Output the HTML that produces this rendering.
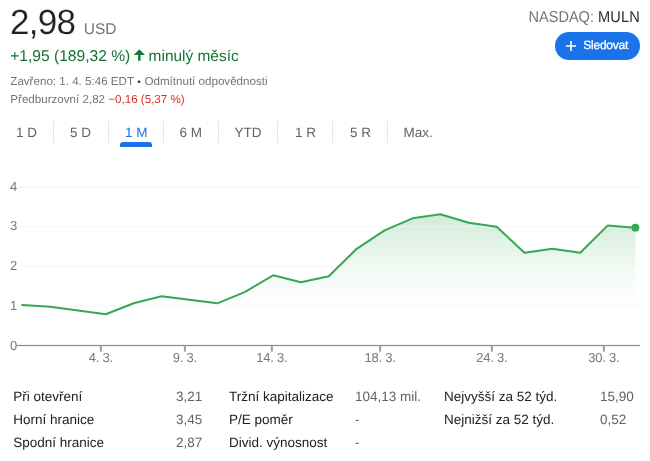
<!DOCTYPE html>
<html lang="cs">
<head>
<meta charset="utf-8">
<title>MULN</title>
<style>
html,body{margin:0;padding:0;background:#fff;}
body{width:650px;height:461px;position:relative;overflow:hidden;font-family:"Liberation Sans",sans-serif;color:#202124;text-rendering:geometricPrecision;}
.abs{position:absolute;white-space:nowrap;}
#price{left:10px;top:1px;font-size:35px;line-height:44px;color:#202124;letter-spacing:-0.7px;-webkit-text-stroke:0.15px #fff;}
#cur{left:83.7px;top:19.2px;font-size:15.5px;line-height:22px;color:#70757a;letter-spacing:0;}
#chg{left:10.2px;top:46px;font-size:15.6px;line-height:22px;color:#137333;}
#chg2{left:148.6px;top:46px;font-size:15.45px;line-height:22px;color:#137333;}
#meta1{left:10.3px;top:73px;font-size:11.6px;line-height:18px;color:#70757a;}
#meta2{left:10.3px;top:91px;font-size:11.6px;line-height:18px;color:#70757a;}
#meta2 .neg{color:#d93025;}
.dot{font-size:10px;color:#3c4043;position:relative;top:0.3px;margin:0 0.5px 0 0.15px;}
#exch{right:10.5px;top:8px;font-size:15.8px;line-height:20px;color:#70757a;transform:scaleX(0.922);transform-origin:100% 50%;}
#exch b{font-weight:normal;color:#2a2b2e;letter-spacing:0.15px;}
#follow{left:554.8px;top:32.3px;width:85.2px;height:27.3px;border-radius:14px;background:#1a73e8;color:#fff;font-size:12px;line-height:27.4px;}
#follow span{position:absolute;left:28.5px;top:0;letter-spacing:-0.25px;-webkit-text-stroke:0.3px #fff;}
.tab{top:122px;font-size:13.5px;line-height:22px;color:#5f6368;}
.sep{position:absolute;top:121px;width:1px;height:22px;background:#e4e7ee;}
#ul{position:absolute;left:119.8px;top:142px;width:32px;height:4.5px;background:#1a73e8;border-radius:3px 3px 0 0;}
.yl{font-size:13px;line-height:14px;color:#757a7f;left:10.1px;}
.xl{font-size:13px;line-height:14px;color:#757a7f;top:351px;transform:translateX(-50%);letter-spacing:-0.2px;}
.st{font-size:13.5px;line-height:16px;}
.k{color:#202124;}
.v{color:#5f6368;}
</style>
</head>
<body>
<div class="abs" id="price">2,98</div>
<div class="abs" id="cur">USD</div>
<div class="abs" id="chg">+1,95 (189,32 %)</div>
<svg class="abs" style="left:132px;top:47px" width="16" height="16" viewBox="132 47 16 16"><path d="M139.35 49.3 L145 54.9 L140.55 54.9 L140.55 60.7 L138.1 60.7 L138.1 54.9 L133.7 54.9 Z" fill="#15793a"/></svg>
<div class="abs" id="chg2">minulý měsíc</div>
<div class="abs" id="meta1">Zavřeno: 1. 4. 5:46 EDT <span class="dot">•</span> Odmítnutí odpovědnosti</div>
<div class="abs" id="meta2">Předburzovní 2,82 <span class="neg">−0,16 (5,37 %)</span></div>
<div class="abs" id="exch">NASDAQ: <b>MULN</b></div>
<div class="abs" id="follow"><svg width="12" height="12" viewBox="0 0 12 12" style="position:absolute;left:10.2px;top:8.2px"><path d="M5.2 1h1.6v4.2h4.2v1.6H6.8v4.2H5.2V6.8H1V5.2h4.2z" fill="#fff"/></svg><span>Sledovat</span></div>

<div class="abs tab" style="left:16px">1 D</div>
<div class="sep" style="left:53px"></div>
<div class="abs tab" style="left:70px">5 D</div>
<div class="sep" style="left:108px"></div>
<div class="abs tab" style="left:125px;color:#1a73e8">1 M</div>
<div id="ul"></div>
<div class="sep" style="left:163px"></div>
<div class="abs tab" style="left:179.5px">6 M</div>
<div class="sep" style="left:218px"></div>
<div class="abs tab" style="left:234.5px">YTD</div>
<div class="sep" style="left:277px"></div>
<div class="abs tab" style="left:295px">1 R</div>
<div class="sep" style="left:332px"></div>
<div class="abs tab" style="left:350px">5 R</div>
<div class="sep" style="left:387px"></div>
<div class="abs tab" style="left:403.5px">Max.</div>

<svg class="abs" style="left:0;top:160px" width="650" height="210" viewBox="0 160 650 210">
<defs><linearGradient id="g" x1="0" y1="210" x2="0" y2="306" gradientUnits="userSpaceOnUse"><stop offset="0" stop-color="#34a853" stop-opacity="0.24"/><stop offset="0.5" stop-color="#34a853" stop-opacity="0.095"/><stop offset="0.75" stop-color="#34a853" stop-opacity="0.04"/><stop offset="1" stop-color="#34a853" stop-opacity="0"/></linearGradient></defs>
<path fill="url(#g)" d="M22.2 304.9 L50.07 306.8 L77.95 310.5 L105.82 314.3 L133.69 303.3 L161.56 296.3 L189.44 299.8 L217.31 303.3 L245.18 291.8 L273.05 275.3 L300.93 282.3 L328.8 276.3 L356.67 248.8 L384.55 230.3 L412.42 218.3 L440.29 214.3 L468.76 222.7 L496.64 226.7 L524.51 252.7 L552.38 248.7 L580.25 252.7 L607.53 225.6 L635.4 227.7 L635.4 345 L22.2 345 Z"/>
<g fill="#f3f4f5" fill-opacity="0.85">
<rect x="18" y="186.5" width="622" height="1"/>
<rect x="18" y="226.1" width="622" height="1"/>
<rect x="18" y="265.7" width="622" height="1"/>
<rect x="18" y="305.5" width="622" height="1"/>
</g>
<rect x="17" y="344.9" width="623" height="1.2" fill="#85898e"/>
<g fill="#9a9fa4">
<rect x="99.85" y="345.5" width="2" height="6.2"/>
<rect x="183.85" y="345.5" width="2" height="6.2"/>
<rect x="270.85" y="345.5" width="2" height="6.2"/>
<rect x="379.10" y="345.5" width="2" height="6.2"/>
<rect x="490.85" y="345.5" width="2" height="6.2"/>
<rect x="602.85" y="345.5" width="2" height="6.2"/>
</g>
<path fill="none" stroke="#34a853" stroke-width="2" stroke-linejoin="round" stroke-linecap="round" d="M22.2 304.9 L50.07 306.8 L77.95 310.5 L105.82 314.3 L133.69 303.3 L161.56 296.3 L189.44 299.8 L217.31 303.3 L245.18 291.8 L273.05 275.3 L300.93 282.3 L328.8 276.3 L356.67 248.8 L384.55 230.3 L412.42 218.3 L440.29 214.3 L468.76 222.7 L496.64 226.7 L524.51 252.7 L552.38 248.7 L580.25 252.7 L607.53 225.6 L635.4 227.7"/>
<circle cx="635.4" cy="227.7" r="3.9" fill="#34a853"/>
</svg>
<div class="abs yl" style="top:179.5px">4</div>
<div class="abs yl" style="top:219px">3</div>
<div class="abs yl" style="top:259px">2</div>
<div class="abs yl" style="top:298.5px">1</div>
<div class="abs yl" style="top:338.5px">0</div>
<div class="abs xl" style="left:100.8px">4. 3.</div>
<div class="abs xl" style="left:184.8px">9. 3.</div>
<div class="abs xl" style="left:271.8px">14. 3.</div>
<div class="abs xl" style="left:380.1px">18. 3.</div>
<div class="abs xl" style="left:491.8px">24. 3.</div>
<div class="abs xl" style="left:603.8px">30. 3.</div>

<div class="abs st k" style="left:13.2px;top:389px">Při otevření</div>
<div class="abs st v" style="left:176px;top:389px">3,21</div>
<div class="abs st k" style="left:13.2px;top:412px">Horní hranice</div>
<div class="abs st v" style="left:176px;top:412px">3,45</div>
<div class="abs st k" style="left:13.2px;top:435px">Spodní hranice</div>
<div class="abs st v" style="left:176px;top:435px">2,87</div>
<div class="abs st k" style="left:229px;top:389px">Tržní kapitalizace</div>
<div class="abs st v" style="left:355px;top:389px">104,13 mil.</div>
<div class="abs st k" style="left:229px;top:412px">P/E poměr</div>
<div class="abs st v" style="left:355px;top:412px">-</div>
<div class="abs st k" style="left:229px;top:435px">Divid. výnosnost</div>
<div class="abs st v" style="left:355px;top:435px">-</div>
<div class="abs st k" style="left:444px;top:389px">Nejvyšší za 52 týd.</div>
<div class="abs st v" style="left:600px;top:389px">15,90</div>
<div class="abs st k" style="left:444px;top:412px">Nejnižší za 52 týd.</div>
<div class="abs st v" style="left:600px;top:412px">0,52</div>
</body>
</html>
